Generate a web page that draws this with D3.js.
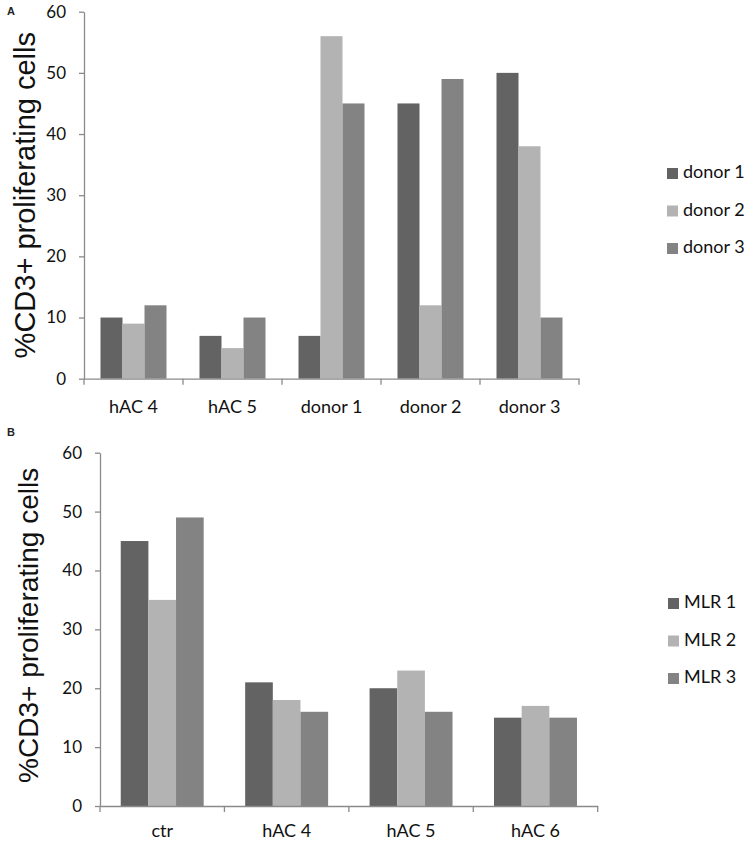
<!DOCTYPE html>
<html>
<head>
<meta charset="utf-8">
<script src="https://cdn.jsdelivr.net/npm/d3@7"></script>
<style>
  html, body { margin: 0; padding: 0; background: #fff; }
  svg { display: block; }
</style>
</head>
<body>
<svg id="chart" width="748" height="845"></svg>
<script>
// ---- Data ----
const categoriesA = ["hAC 4", "hAC 5", "donor 1", "donor 2", "donor 3"];
const seriesA = ["donor 1", "donor 2", "donor 3"];
const valuesA_donor1 = [10, 7, 7, 45, 50];
const valuesA_donor2 = [9, 5, 56, 12, 38];
const valuesA_donor3 = [12, 10, 45, 49, 10];

const categoriesB = ["ctr", "hAC 4", "hAC 5", "hAC 6"];
const seriesB = ["MLR 1", "MLR 2", "MLR 3"];
const valuesB_mlr1 = [45, 21, 20, 15];
const valuesB_mlr2 = [35, 18, 23, 17];
const valuesB_mlr3 = [49, 16, 16, 15];

const yTicks = [0, 10, 20, 30, 40, 50, 60];
const yTitle = "%CD3+ proliferating cells";
const colors = ["#636363", "#b3b3b3", "#838383"];

const svg = d3.select("#chart");
const tickFont = "Lato, 'Open Sans', sans-serif";
const axisColor = "#8a8a8a";

function drawPanel(cfg) {
  const g = svg.append("g");
  const x = d3.scaleBand().domain(cfg.categories).range([cfg.left, cfg.right]).padding(0);
  const bw = x.bandwidth();
  const pad = bw * 0.75 / 4.5;
  const xs = d3.scaleBand().domain(cfg.series).range([pad, bw - pad]).padding(0);
  const y = d3.scaleLinear().domain([0, 60]).range([cfg.bottom, cfg.top]);

  const rows = cfg.categories.map((c, i) => ({
    cat: c,
    vals: cfg.series.map((s, j) => ({ s, v: cfg.values[j][i], j }))
  }));

  // bars
  const grp = g.selectAll("g.cat").data(rows).enter().append("g")
    .attr("transform", d => `translate(${x(d.cat)},0)`);
  grp.selectAll("rect").data(d => d.vals).enter().append("rect")
    .attr("x", d => xs(d.s))
    .attr("width", xs.bandwidth())
    .attr("y", d => y(d.v))
    .attr("height", d => y(0) - y(d.v))
    .attr("fill", d => colors[d.j]);

  // y axis
  const ya = g.append("g").attr("transform", `translate(${cfg.left},0)`)
    .call(d3.axisLeft(y).tickValues(yTicks).tickSize(5).tickSizeOuter(0).tickPadding(13));
  ya.select(".domain").attr("stroke", axisColor).attr("stroke-width", 1.3);
  ya.selectAll(".tick line").attr("stroke", axisColor).attr("stroke-width", 1.3);
  ya.selectAll(".tick text").attr("font-family", tickFont).attr("font-size", 17).attr("fill", "#111");

  // x axis
  const xa = g.append("g").attr("transform", `translate(0,${cfg.bottom})`)
    .call(d3.axisBottom(x).tickSize(0).tickSizeOuter(0).tickPadding(cfg.xLabelPad));
  xa.select(".domain").attr("stroke", axisColor).attr("stroke-width", 1.3);
  xa.selectAll(".tick text").attr("font-family", tickFont).attr("font-size", 18).attr("fill", "#111");
  const bounds = cfg.categories.map(c => x(c)).concat([x.range()[1]]);
  xa.selectAll("line.bt").data(bounds).enter().append("line").attr("class", "bt")
    .attr("x1", d => d).attr("x2", d => d).attr("y1", 0).attr("y2", 6)
    .attr("stroke", axisColor).attr("stroke-width", 1.3);

  // y title
  svg.append("text")
    .attr("transform", `translate(${cfg.titleX},${(cfg.top + cfg.bottom) / 2 + cfg.titleDY}) rotate(-90)`)
    .attr("text-anchor", "middle")
    .attr("font-family", "'Liberation Sans', Arial, sans-serif")
    .attr("font-size", cfg.titleSize)
    .attr("fill", "#111")
    .text(yTitle);

  // panel letter
  svg.append("text").attr("x", 7).attr("y", cfg.letterY)
    .attr("font-family", "'Liberation Sans', Arial, sans-serif")
    .attr("font-weight", "bold").attr("font-size", 11).attr("fill", "#222")
    .text(cfg.letter);

  // legend
  const lg = svg.append("g");
  const items = lg.selectAll("g").data(cfg.series).enter().append("g")
    .attr("transform", (d, i) => `translate(${cfg.legX},${cfg.legY + i * 37.5})`);
  items.append("rect").attr("x", 0).attr("y", -10).attr("width", 11).attr("height", 11)
    .attr("fill", (d, i) => colors[i]);
  items.append("text").attr("x", 16).attr("y", 0)
    .attr("font-family", tickFont).attr("font-size", 18).attr("fill", "#111")
    .text(d => d);
}

drawPanel({
  categories: categoriesA, series: seriesA,
  values: [valuesA_donor1, valuesA_donor2, valuesA_donor3],
  left: 84, right: 579, top: 11.7, bottom: 378.7,
  xLabelPad: 22, titleX: 35, titleDY: 0, titleSize: 29,
  letter: "A", letterY: 15, legX: 667, legY: 178
});

drawPanel({
  categories: categoriesB, series: seriesB,
  values: [valuesB_mlr1, valuesB_mlr2, valuesB_mlr3],
  left: 100, right: 597.7, top: 452.7, bottom: 806,
  xLabelPad: 18, titleX: 38, titleDY: -4, titleSize: 28,
  letter: "B", letterY: 436, legX: 668, legY: 608
});
</script>
</body>
</html>
